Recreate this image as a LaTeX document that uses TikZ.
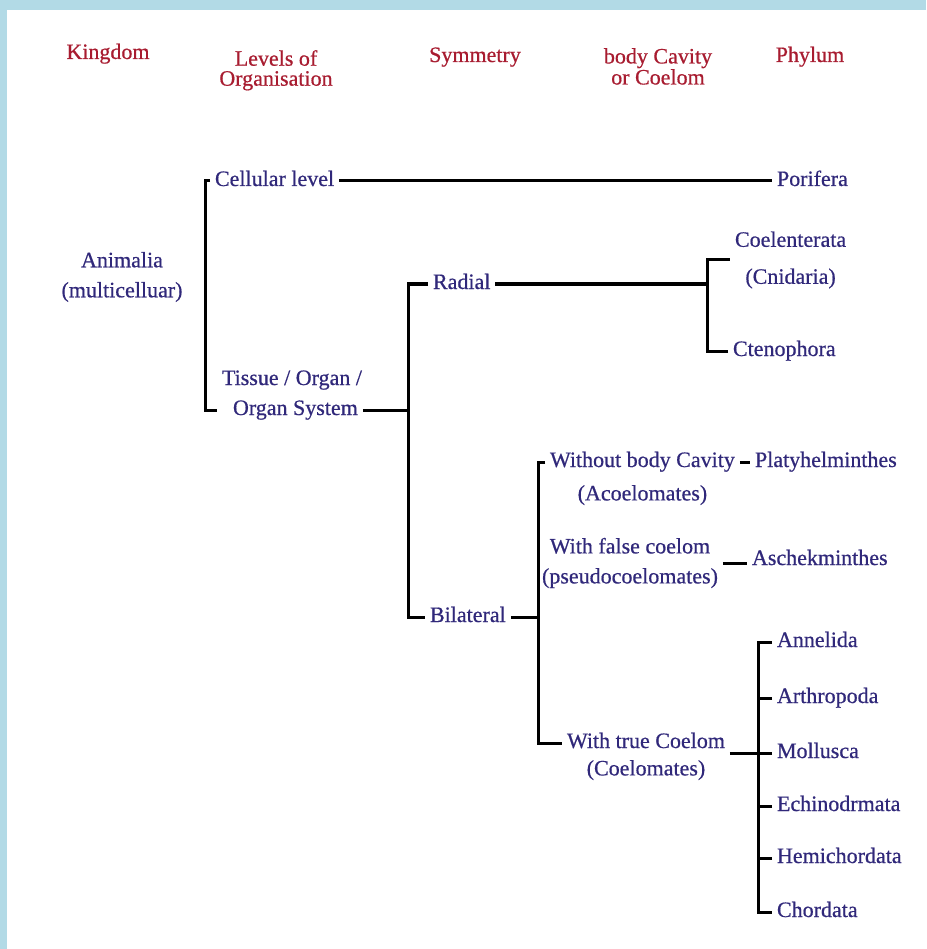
\documentclass[tikz,border=0pt]{standalone}
\usepackage{fontspec}
\setmainfont{Liberation Serif}[FakeBold=0.6]
\usetikzlibrary{positioning}
\definecolor{headred}{RGB}{168,28,48}
\definecolor{taxblue}{RGB}{48,40,122}
\definecolor{frameblue}{RGB}{178,218,230}
\newcommand{\headfont}{\fontsize{22}{20}\selectfont}
\newcommand{\taxfont}{\fontsize{22}{30}\selectfont}
\tikzset{
  head/.style={text=headred, font=\headfont, align=center, inner sep=0pt},
  txt/.style={text=taxblue, font=\taxfont, inner sep=0pt, outer xsep=5pt},
  taxon/.style={txt, anchor=west, text height=15pt, text depth=5pt},
  taxa/.style={txt, align=center},
  link/.style={line width=3pt, black},
}

\begin{document}
\begin{tikzpicture}[x=1pt, y=-1pt]
  \useasboundingbox (0,0) rectangle (926,949);
  \fill[frameblue] (0,0) rectangle (926,949);
  \fill[white] (7,10) rectangle (926,949);

  % column heads
  \node[head, anchor=base] (hking) at (108,59) {Kingdom};
  \node[head, anchor=north] (hlevel) at (276,50) {Levels of\\Organisation};
  \node[head, anchor=base] (hsym) at (475,62) {Symmetry};
  \node[head, anchor=north] (hcav) at (658,48) {body Cavity\\or Coelom};
  \node[head, anchor=base] (hphy) at (810,62) {Phylum};

  % kingdom and levels
  \node[taxa] (animalia) at (122,277) {Animalia\\(multicelluar)};
  \node[taxon] (cell) at (210,181) {Cellular level};
  \node[taxon] (tissue) at (217,380) {Tissue / Organ /};
  \node[taxon] (organ) at (228,410) {Organ System};
  \node[taxon] (porifera) at (772,181) {Porifera};

  % symmetry
  \node[taxon] (radial) at (428,284) {Radial};
  \node[taxon] (bilat) at (425,617) {Bilateral};
  \node[taxa, anchor=west] (coel) at (730,260) {Coelenterata\\[7pt](Cnidaria)};
  \node[taxon] (cteno) at (728,351) {Ctenophora};

  % body cavity
  \node[taxon] (acoel) at (545,462) {Without body Cavity};
  \node[taxon, below=13pt of acoel] (acoel2) {(Acoelomates)};
  \node[taxon] (platy) at (750,462) {Platyhelminthes};
  \node[taxa] (falsec) at (630,563) {With false coelom\\(pseudocoelomates)};
  \node[taxon] (asch) at (747,560) {Aschekminthes};
  \node[taxon] (coelom) at (562,743) {With true Coelom};
  \node[taxon, below=7pt of coelom] (coelom2) {(Coelomates)};

  % coelomate phyla
  \node[taxon] (annelida) at (772,642) {Annelida};
  \node[taxon] (arthropoda) at (772,698) {Arthropoda};
  \node[taxon] (mollusca) at (772,753) {Mollusca};
  \node[taxon] (echino) at (772,806) {Echinodrmata};
  \node[taxon] (hemi) at (772,858) {Hemichordata};
  \node[taxon] (chordata) at (772,912) {Chordata};

  \draw[link] (cell.west) -- ++(-5,0) |- ([xshift=-11pt]organ.west);
  \draw[link] (cell.east) -- (porifera.west);
  \draw[link] (radial.west) -- ++(-20,0) coordinate (symbar) |- (bilat.west);
  \draw[link] (organ.east) -- (organ.east -| symbar);
  \draw[link] (cteno.west) -- ++(-21,0) coordinate (cnibar) |- (coel.west);
  \draw[link] (radial.east) -- (radial.east -| cnibar);
  \draw[link] (acoel.west) -- ++(-7,0) coordinate (bibar) |- (coelom.west);
  \draw[link] (bilat.east) -- (bilat.east -| bibar);
  \draw[link] (acoel.east) -- (platy.west);
  \draw[link] (falsec.east) -- (falsec.east -| asch.west);
  \draw[link] (annelida.west) -- ++(-14,0) coordinate (phybar) |- (chordata.west);
  \foreach \p in {arthropoda,mollusca,echino,hemi}
    \draw[link] (\p.west) -- (\p.west -| phybar);
  \draw[link] (coelom.east |- mollusca.west) -- (mollusca.west);
\end{tikzpicture}
\end{document}
